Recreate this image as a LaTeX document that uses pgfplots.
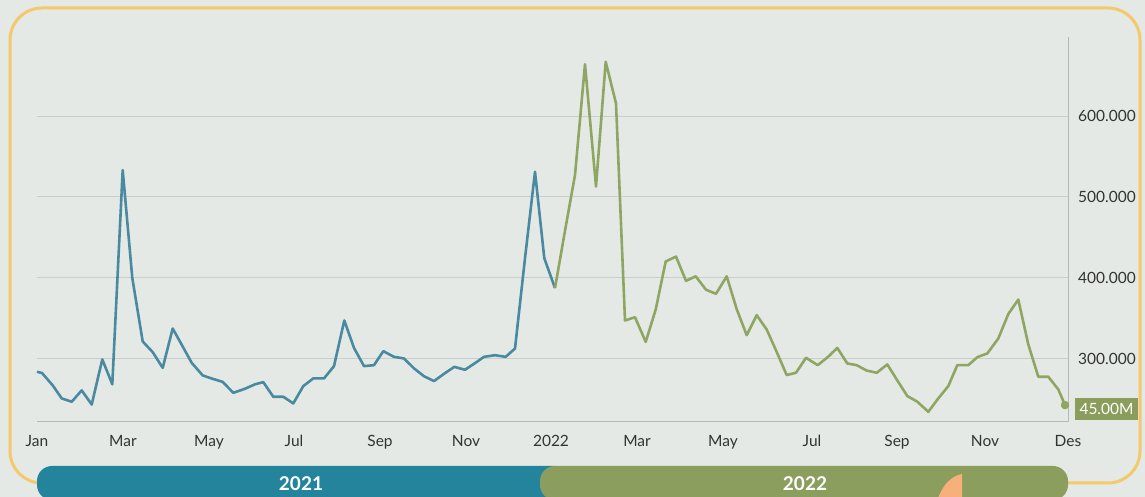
\documentclass[border=0pt]{standalone}
\usepackage{fontspec}
\setmainfont{Lato}
\usepackage{pgfplots}
\pgfplotsset{compat=1.18}
\definecolor{bgc}{HTML}{E4E9E5}
\definecolor{bordc}{HTML}{F4C96B}
\definecolor{gridc}{HTML}{C8CEC9}
\definecolor{axc}{HTML}{B5BAB6}
\definecolor{blueline}{HTML}{4A8AA0}
\definecolor{greenline}{HTML}{8FA663}
\definecolor{bluebar}{HTML}{23849B}
\definecolor{greenbar}{HTML}{8B9E5D}
\definecolor{boxg}{HTML}{8A9D5B}
\definecolor{orng}{HTML}{F7B07A}
\definecolor{txt}{HTML}{333333}
\pgfplotstableread{
x y
37 283.5
42 282
52.7 266.7
61.7 250.6
71.7 246.4
81.7 260.5
91.7 243
102.3 298.8
112.3 268
122.7 533
132.3 399.5
142.7 321
152.7 307.8
162.7 288.4
172.7 337
181.7 317
191.7 294.6
202.7 279
212.7 274.8
222.7 271
233.3 257.5
245 262.5
255 268
263.3 270.7
273.3 252.6
283.3 252.6
293.3 244.4
303.3 265.8
313.3 275.3
324 275.3
334 290.5
344.3 347
354 313
364 290.5
374 291.7
383.3 309
394 302
404 300
414 287.7
424 278
434 272
444 281
454.3 289.6
465 286
475 294.2
484 302
495 304
505.7 302
515 312.3
525 424
535 531
544.3 424
555 387
}\blueT
\pgfplotstableread{
x y
555 387
565 458
575 527
585 664
596 512.7
605.7 667
616 615.6
625 347
635 351
645.7 320.5
655.7 360.5
665.7 420
676 426
686 396
695.7 401.6
706 385
716 380
726.7 401.6
736.7 361
746.7 328.8
756.7 353.5
766.7 335.8
776.7 308
786.7 279.4
796 282.3
806 300.8
817.7 291.7
827.7 301.6
837.3 313
847.3 293.8
856.7 291.7
866.7 285
876.7 282.3
887.3 292.6
897.3 272.8
907.3 253.5
917.3 246.5
928.3 234
938.3 250.6
948.3 265.8
957.3 291.7
968.3 291.7
977.3 301.6
987.3 306.2
998.3 324.7
1008.3 355
1018.3 372.8
1028.3 317.3
1038.3 277.3
1048.3 277.3
1058.3 261.7
1065 242.3
}\greenT
\begin{document}
\begin{tikzpicture}[x=1pt,y=1pt]
\useasboundingbox (0,0) rectangle (1145,497);
\begin{scope}
\clip (0,0) rectangle (1145,497);
\fill[bgc] (0,0) rectangle (1145,497);
\draw[bordc, line width=3pt, rounded corners=32pt] (10,14) rectangle (1140,489);
\fill[bluebar, rounded corners=15pt] (37,-3) rectangle (570,31);
\fill[greenbar, rounded corners=15pt] (540,-3) rectangle (1068,31);
\fill[orng] (938,-1) .. controls (944,14) and (952,21) .. (962,23) -- (962,-1) -- cycle;
\node[text=white, font=\fontsize{19}{21}\selectfont\bfseries] at (301,13) {2021};
\node[text=white, font=\fontsize{19}{21}\selectfont\bfseries] at (805,13) {2022};
\end{scope}
\begin{axis}[
  at={(37,93)}, anchor=south west,
  scale only axis, width=1031pt, height=385pt,
  xmin=37, xmax=1068, ymin=221.6, ymax=697.9,
  axis x line=bottom, axis y line=right,
  axis line style={-, draw=axc, line width=0.8pt},
  ymajorgrids, grid style={gridc, line width=0.8pt},
  major tick length=0pt,
  xtick={37,123,209,294,380,466,551,637,723,812,897,985,1068},
  xticklabels={Jan,Mar,May,Jul,Sep,Nov,2022,Mar,May,Jul,Sep,Nov,Des},
  ytick={300,400,500,600},
  yticklabels={300.000,400.000,500.000,600.000},
  xticklabel style={anchor=base, inner sep=0pt, yshift=-25pt, text=txt, font=\fontsize{15.5}{17}\selectfont},
  yticklabel style={anchor=west, inner sep=0pt, xshift=10pt, text=txt, font=\fontsize{15.5}{17}\selectfont},
  clip=false,
]
\addplot[blueline, line width=2.6pt, line join=round] table[x=x,y=y] {\blueT};
\addplot[greenline, line width=2.6pt, line join=round] table[x=x,y=y] {\greenT};
\addplot[only marks, mark=*, mark size=4pt, mark options={fill=greenline, draw=greenline}] coordinates {(1065,242.3)};
\end{axis}
\node[fill=boxg, text=white, inner sep=0pt, minimum width=63pt, minimum height=22pt, font=\fontsize{15.5}{17}\selectfont] at (1106.5,88) {45.00M};
\end{tikzpicture}
\end{document}
